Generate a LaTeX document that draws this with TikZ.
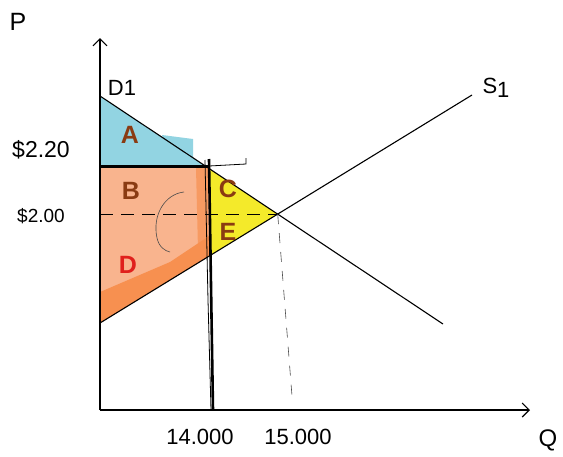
\documentclass[tikz,border=0pt]{standalone}
\usepackage{fontspec}
\setmainfont{Liberation Sans}
\usetikzlibrary{arrows.meta}
\definecolor{cblue}{HTML}{92D4E2}
\definecolor{corange}{HTML}{F9B48E}
\definecolor{cdark}{HTML}{F79050}
\definecolor{cyellow}{HTML}{F4EA2A}
\definecolor{cbrown}{HTML}{8A3B12}
\definecolor{cred}{HTML}{E0201C}
\tikzset{
  axis/.style={line width=1.1pt,-{Straight Barb[length=7pt,width=14pt]}},
  curve/.style={line width=1.1pt},
  hand/.style={font=\fontsize{22}{22}\selectfont},
  area/.style={font=\bfseries\fontsize{25}{25}\selectfont,text=cbrown},
  dashline/.style={line width=1pt,dash pattern=on 13pt off 8pt},
}
\begin{document}
\begin{tikzpicture}[x=1pt,y=-1pt]
\useasboundingbox (0,0) rectangle (563,456);
\fill[white] (0,0) rectangle (563,456);
% key coordinates
\coordinate (O) at (100,410);
\coordinate (ytip) at (100,38);
\coordinate (xtip) at (530,410);
\coordinate (dA) at (100,96);
\coordinate (dB) at (443,324);
\coordinate (sA) at (100,323);
\coordinate (sB) at (472,95);
\coordinate (eq) at (277.7,214.1);
\coordinate (pc) at (100,166);
\coordinate (qd) at (209,168.5);
\coordinate (qs) at (209,256.2);
\coordinate (qc) at (209,166);
\coordinate (qb) at (213,410);
\coordinate (qt) at (209,159);
\coordinate (pe) at (100,214.1);
\coordinate (qe) at (292,396);
% areas
\fill[cblue] (dA) -- (205,166) -- (pc) -- cycle;
\fill[cblue] (162,135) -- (193,139) -- (193,166) -- (170,166) -- cycle;
\fill[corange] (pc) -- (qc) -- (qs) -- (sA) -- cycle;
\fill[cdark] (100,323) -- (209,256.2) -- (209,236) -- (170,262) -- (100,292) -- cycle;
\fill[cdark,opacity=0.7] (196,168) -- (208,168) -- (208,245) -- (198,250) -- cycle;
\fill[cyellow] (qd) -- (eq) -- (qs) -- cycle;
% curves
\draw[curve] (dA) -- (dB);
\draw[curve] (sA) -- (sB);
% axes
\draw[axis] (O) -- (ytip);
\draw[axis] (O) -- (xtip);
% dashed lines
\draw[dashline] (pe) -- (eq);
\draw[line width=0.6pt,black!70,dash pattern=on 10pt off 9pt] (eq) -- (qe);
% stray stroke
\draw[line width=0.6pt,black!70] (184,192) .. controls (165,194) and (152,215) .. (157,238) .. controls (159,247) and (165,251) .. (170,252);
% price ceiling and quantity
\draw[line width=3pt] (pc) -- (qc);
\draw[line width=0.8pt] (qc) -- (246,164) -- (246,158);
\draw[line width=2.6pt] (qt) -- (qb);
\draw[line width=0.8pt] (205,160) -- (208,300) -- (211,410);
% labels
\node[hand,font=\fontsize{25}{25}\selectfont] (lP) at (18,22) {P};
\node[hand] (lD) at (122,88) {D1};
\node[hand] (lS) at (496,88) {S\raisebox{-4pt}{1}};
\node[hand,font=\fontsize{23}{23}\selectfont] (l220) at (41,150) {\$2.20};
\node[hand,font=\fontsize{19}{19}\selectfont] (l200) at (41,216) {\$2.00};
\node[hand] (l14) at (200,437) {14.000};
\node[hand] (l15) at (298,437) {15.000};
\node[hand,font=\fontsize{24}{24}\selectfont] (lQ) at (548,440) {Q};
\node[area] (aA) at (130,135) {A};
\node[area] (aB) at (131,191) {B};
\node[area] (aC) at (228,189) {C};
\node[area] (aE) at (228,232) {E};
\node[area,text=cred] (aD) at (128,265) {D};
\end{tikzpicture}
\end{document}
